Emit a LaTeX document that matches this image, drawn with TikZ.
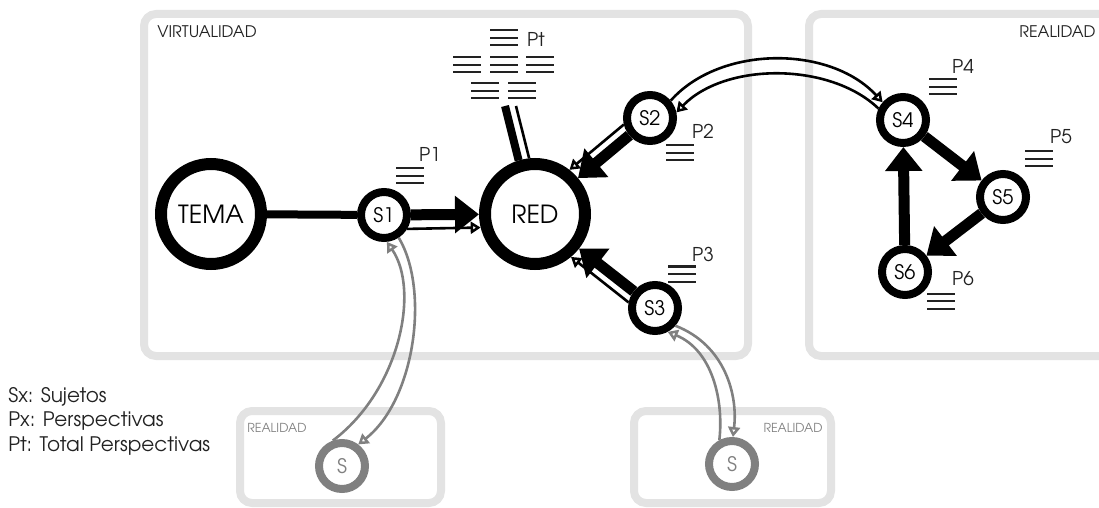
\documentclass[tikz,border=0pt]{standalone}
\usepackage{fontspec}
\setmainfont{TeX Gyre Adventor}
\usetikzlibrary{arrows.meta}

\definecolor{marco}{HTML}{E3E3E3}
\definecolor{gris}{HTML}{808080}
\definecolor{tinta}{HTML}{222222}

\tikzset{
  sujeto/.style={circle, draw, line width=4pt, fill=white, minimum size=23pt,
    inner sep=0pt, font=\fontsize{10}{10}\selectfont},
  grande/.style={circle, draw, line width=6pt, fill=white, minimum size=50pt,
    inner sep=0pt, font=\fontsize{12.5}{13}\selectfont},
  externo/.style={sujeto, draw=gris, text=gris},
  marcobox/.style={draw=marco, line width=4pt, rounded corners=6pt},
  fuerte/.style={line width=5.5pt, -{Triangle[length=12pt,width=18pt]}},
  debil/.style={line width=1.3pt, -{Triangle[open,length=5pt,width=6pt]}},
  etiqueta/.style={inner sep=0pt, text=tinta, font=\fontsize{9.5}{9.5}\selectfont},
  persp/.pic={\foreach \k in {-7.5,0,7.5} \draw[tinta, line width=1pt] (-14,\k) -- (14,\k);}
}

\begin{document}
\begin{tikzpicture}[x=0.5pt, y=-0.5pt]
    \useasboundingbox (0,0) rectangle (1099,508);

    % virtual and real frames
    \draw[marcobox] (144,14) rectangle (748,356);
    \draw[marcobox] (809,14) rectangle (1112,356);
    \draw[marcobox] (240,411) rectangle (441,503);
    \draw[marcobox] (634,411) rectangle (831,503);

    \node[anchor=west, inner sep=0pt, text=tinta, font=\fontsize{8}{8}\selectfont] (virt) at (157,32) {VIRTUALIDAD};
    \node[anchor=east, inner sep=0pt, text=tinta, font=\fontsize{8}{8}\selectfont] (real) at (1096,32) {REALIDAD};
    \node[anchor=west, inner sep=0pt, text=gris, font=\fontsize{6.2}{6.2}\selectfont] (realA) at (247,428) {REALIDAD};
    \node[anchor=east, inner sep=0pt, text=gris, font=\fontsize{6.2}{6.2}\selectfont] (realB) at (823,428) {REALIDAD};

    % subjects
    \node[grande] (tema) at (211,214) {TEMA};
    \node[sujeto] (s1) at (384,215) {S1};
    \node[grande] (red) at (535,214) {RED};
    \node[sujeto] (s2) at (650,118) {S2};
    \node[sujeto] (s3) at (655,308) {S3};
    \node[sujeto] (s4) at (903,120) {S4};
    \node[sujeto] (s5) at (1003,197) {S5};
    \node[sujeto] (s6) at (905,272) {S6};
    \node[externo] (sa) at (342,466) {S};
    \node[externo] (sb) at (732,464) {S};

    % perspectives
    \pic at (410,176) {persp};  \node[etiqueta] (p1) at (430,154) {P1};
    \pic at (680,153) {persp};  \node[etiqueta] (p2) at (703,131) {P2};
    \pic at (682,274) {persp};  \node[etiqueta] (p3) at (703,254) {P3};
    \pic at (943,87) {persp};   \node[etiqueta] (p4) at (963,66) {P4};
    \pic at (1039,159) {persp}; \node[etiqueta] (p5) at (1061,137) {P5};
    \pic at (941,301) {persp};  \node[etiqueta] (p6) at (963,279) {P6};
    \foreach \x/\y in {504/38, 467/65, 504/65, 540/65, 485/91, 522/91}
        \pic at (\x,\y) {persp};
    \node[etiqueta] (pt) at (536,39) {Pt};

    % links to the net
    \draw[line width=4pt] (tema) -- (s1);
    \draw[fuerte] (s1) -- (red);
    \draw[debil] (s1.-31) -- (red.194);
    \draw[fuerte] (s2) -- (red);
    \draw[debil] (s2.194) -- (red.52);
    \draw[fuerte] (s3) -- (red);
    \draw[debil] (s3.168) -- (red.-50);

    \coordinate (ptA) at (505,106);
    \coordinate (ptB) at (516,106);
    \draw[line width=4pt] (red.107) -- (ptA);
    \draw[line width=1.3pt] (red.96) -- (ptB);

    % S2 <-> S4
    \draw[debil] (s2.40) .. controls (720,45) and (830,45) .. (s4.139);
    \draw[debil] (s4.155) .. controls (830,62) and (725,62) .. (s2.12);

    % real cycle
    \draw[fuerte] (s4) -- (s5);
    \draw[fuerte] (s5) -- (s6);
    \draw[fuerte] (s6) -- (s4);

    % outside subjects
    \draw[gris, debil] (sa.110) .. controls (400,390) and (420,290) .. (s1.-84);
    \draw[gris, debil] (s1.-57) .. controls (430,290) and (415,400) .. (sa.53);
    \draw[gris, debil] (sb.118) .. controls (724,400) and (712,350) .. (s3.-62);
    \draw[gris, debil] (s3.-41) .. controls (725,345) and (738,395) .. (sb.88);

    \node[anchor=north west, align=left, inner sep=0pt, text=tinta,
        font=\fontsize{10}{12.25}\selectfont] (leyenda) at (8,387)
        {Sx: Sujetos\\Px: Perspectivas\\Pt: Total Perspectivas};
\end{tikzpicture}
\end{document}
